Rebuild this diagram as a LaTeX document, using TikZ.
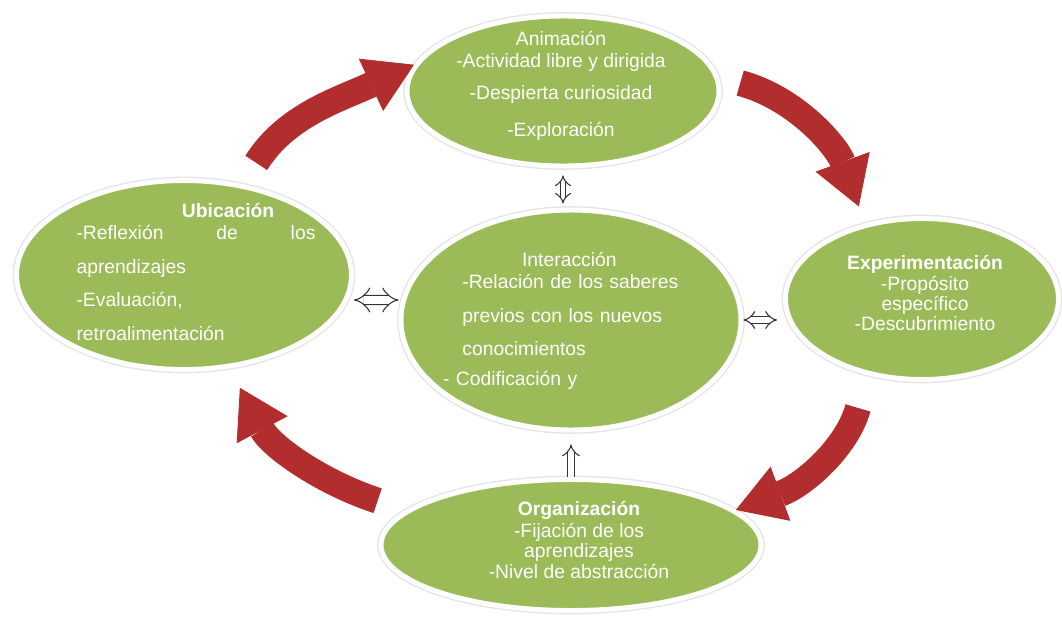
\documentclass[tikz,border=0pt]{standalone}
\usepackage{fontspec}
\setmainfont{Liberation Sans}
\usepackage{tikz}
\usetikzlibrary{arrows.meta,shapes.geometric}
\usepackage{xcolor}
\definecolor{leaf}{HTML}{9BBB59}
\definecolor{cyclered}{RGB}{178,46,46}

\begin{document}
\begin{tikzpicture}[x=0.02cm, y=0.02cm,
  blob/.style={ellipse, fill=leaf, draw=white, line width=2.8pt, inner sep=0pt,
    preaction={draw=black!10, line width=4.4pt}},
  txt/.style={text=white, inner sep=0pt, font=\fontsize{11}{11.5}\selectfont},
  redcurve/.style={draw=cyclered, line width=0.52cm,
    -{Triangle[length=0.95cm, width=1.15cm, line width=0.5pt]}},
  dblink/.style={draw=black!80, line width=0.6pt, double=white, double distance=4.5pt,
    {Implies}-{Implies}}]
  \useasboundingbox (0,0) rectangle (1062,-619);
  \foreach \nm/\px/\py/\w/\h in {anim/563/-91/6.24/3.0, ubic/184/-275/6.7/3.78,
      inter/571/-320/6.8/4.4, expe/922/-299/5.46/3.22, orga/571/-545/7.6/2.62}
    \node[blob, minimum width=\w cm, minimum height=\h cm] (\nm) at (\px,\py) {};

  \node[txt, align=center] (anim-t) at (561,-86)
    {Animación\\[1pt]-Actividad libre y dirigida\\[7pt]-Despierta curiosidad\\[9.5pt]-Exploración};
  \node[txt, text width=4.78cm, align=left] (ubic-t) at (196,-272)
    {\hspace*{60pt}\textbf{Ubicación}\\[1pt]-Reflexión\hfill de\hfill los\\[8pt]aprendizajes\\[7pt]-Evaluación,\\[8pt]retroalimentación};
  \node[txt, text width=4.8cm, align=left] (inter-t) at (563,-321)
    {\hspace*{45pt}Interacción\\[1pt]\hspace*{11pt}-Relación de los saberes\\[8pt]\hspace*{11pt}previos con los nuevos\\[7pt]\hspace*{11pt}conocimientos\\[6pt]- Codificación y};
  \node[txt, align=center] (expe-t) at (925,-293)
    {\textbf{Experimentación}\\[0.5pt]-Propósito\\específico\\-Descubrimiento};
  \node[txt, align=center] (orga-t) at (579,-540)
    {\textbf{Organización}\\[1pt]-Fijación de los\\aprendizajes\\-Nivel de abstracción};

  \foreach \src/\dst/\o/\i/\sa/\sb in {ubic.57/anim.170/58/205/0.5/0,
      anim.5/expe.127/-15/110/0.44/0.36, expe.234/orga.12/-105/20/0.68/0,
      orga.168/ubic.296/162/-62/0.6/0.44}
    \draw[redcurve, shorten <=\sa cm, shorten >=\sb cm] (\src) to[out=\o, in=\i] (\dst);

  \draw[dblink, double distance=2.6pt, shorten <=0.14cm, shorten >=0.08cm]
    (anim.south) -- (anim.south |- inter.north);
  \draw[dblink] ([yshift=-0.5cm]ubic.east) -- ([yshift=0.4cm]inter.west);
  \draw[dblink, double distance=3pt, shorten >=0.12cm] (inter.east) -- (inter.east -| expe.west);
  \draw[dblink, double distance=3pt, {-Implies}, shorten >=0.24cm]
    (orga.north) -- (orga.north |- inter.south);
\end{tikzpicture}
\end{document}
